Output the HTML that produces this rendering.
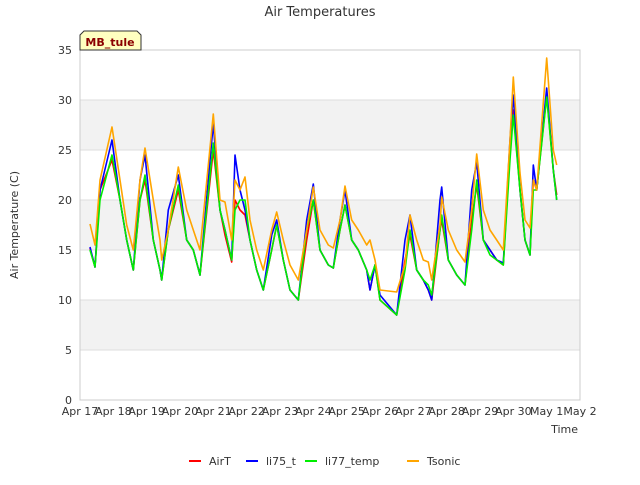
<!DOCTYPE html>
<html><head><meta charset="utf-8"><style>
body{margin:0;background:#fff;font-family:"Liberation Sans","DejaVu Sans",sans-serif}
</style></head><body>
<svg id="chart" width="640" height="480" xmlns="http://www.w3.org/2000/svg" font-family="DejaVu Sans, Liberation Sans, sans-serif">
<rect x="0" y="0" width="640" height="480" fill="#fff"/>
<g id="bands"></g>
<g id="grid"></g>
<rect x="80" y="50" width="500" height="350" fill="none" stroke="#ccc"/>
<g id="series"></g>
<g id="axes" font-size="11" fill="#333"></g>
<text x="320" y="16" text-anchor="middle" font-size="13" fill="#333">Air Temperatures</text>
<text transform="translate(18,225) rotate(-90)" text-anchor="middle" font-size="11" fill="#333">Air Temperature (C)</text>
<text x="578" y="433" text-anchor="end" font-size="11" fill="#333">Time</text>
<g>
<path d="M80,50 L80,35 L84,31 L137,31 L141,35 L141,50 Z" fill="#ffffc0" stroke="#333"/>
<text x="110" y="46" text-anchor="middle" font-size="11" font-weight="bold" fill="#8b0000">MB_tule</text>
</g>
<g id="legend" font-size="11" fill="#333"></g>
</svg>
<script>
const times=[0.3,0.45,0.6,0.96,1.2,1.4,1.6,1.8,1.95,2.2,2.4,2.45,2.65,2.95,3.2,3.4,3.6,4.0,4.2,4.35,4.55,4.65,4.8,4.95,5.1,5.3,5.5,5.75,5.9,6.1,6.3,6.55,6.8,7.0,7.2,7.45,7.6,7.8,7.95,8.15,8.35,8.6,8.7,8.85,9.0,9.5,9.75,9.9,10.1,10.3,10.45,10.55,10.8,10.85,11.05,11.3,11.55,11.75,11.9,12.1,12.3,12.5,12.7,12.9,13.0,13.2,13.35,13.5,13.6,13.7,14.0,14.2,14.3];
const airT=[15.2,13.3,21,24,20,16,13,20,22,16,13,12,17,21,16,15,12.5,25,19,16.5,13.8,20,19,18.5,16,13,11,15,17.5,14,11,10,16,20,15,13.5,13.2,17,19.5,16,15,13,11,13.5,10,8.5,14,16.5,13,12,11,10,17,18,14,12.5,11.5,18,21.5,16,15,14,13.5,25,29,21,16,14.5,22,21,30.5,23,20.5];
const li75=[15.3,13.3,21,26,20,16,13,22,24.5,16,13,12,19,22.5,16,15,12.5,27.7,19,17,14,24.5,21,19,16,13,11,16.5,18,14,11,10,18,21.6,15,13.5,13.2,18,21,16,15,13,11,13.5,10.5,8.5,16,18.5,13,12,11,10,20,21.3,14,12.5,11.5,21,23.8,16,15,14,13.7,26,30.5,21,16,14.5,23.5,21,31.2,23,20];
const li77=[15,13.3,20,24.5,20,16,13,20,22.5,16,13,12,17,21.5,16,15,12.5,25.7,19,17,14,19,20,20,16,13,11,15,17.5,14,11,10,17,20,15,13.5,13.2,17,19.5,16,15,13,12,13.5,10,8.5,13,17,13,12,11.5,10.5,17,18.5,14,12.5,11.5,17,22,16,14.5,14,13.5,24,28.5,21,16,14.5,21,21,30.3,23,20];
const tsonic=[17.6,15.5,22,27.3,22,17.5,15,22,25.2,20,16,14,17,23.3,19,17,15,28.6,20,19.8,16,22,21,22.3,18,15,13,17,18.8,16,13.5,12,17,21.3,17,15.5,15.2,18,21.4,18,17,15.5,16,14,11,10.8,13.5,18.5,16,14,13.8,12,17.5,20.3,17,15,13.8,19,24.6,19,17,16,15,26,32.3,22.7,18,17.2,22,21,34.2,25,23.5];
const seriesNames=["AirT","li75_t","li77_temp","Tsonic"];
const seriesColors=["#ff0000","#0000ff","#00ee00","#ffa500"];
const yTicks=[0,5,10,15,20,25,30,35];
const xTickLabels=["Apr 17","Apr 18","Apr 19","Apr 20","Apr 21","Apr 22","Apr 23","Apr 24","Apr 25","Apr 26","Apr 27","Apr 28","Apr 29","Apr 30","May 1","May 2"];

const NS="http://www.w3.org/2000/svg";
const X=t=>80+t*500/15, Y=v=>400-v*10;
function mk(tag,attrs,parent){const e=document.createElementNS(NS,tag);for(const k in attrs)e.setAttribute(k,attrs[k]);parent.appendChild(e);return e;}
const bands=document.getElementById('bands'),grid=document.getElementById('grid'),axes=document.getElementById('axes');
for(let i=0;i<yTicks.length-1;i++){
  if(i%2===1){const b=mk('rect',{x:80,y:Y(yTicks[i+1]),width:500,height:Y(yTicks[i])-Y(yTicks[i+1]),fill:'#f2f2f2'},bands);
  
  }
}
yTicks.forEach(v=>{
  const l=mk('line',{x1:80,x2:580,y1:Y(v),y2:Y(v),stroke:'#ddd'},grid);
  
  
  const t=mk('text',{x:72,y:Y(v)+4,'text-anchor':'end'},axes);t.textContent=v;
  
  
});
xTickLabels.forEach((s,i)=>{
  const t=mk('text',{x:X(i),y:415,'text-anchor':'middle'},axes);t.textContent=s;
  
  
});
const sg=document.getElementById('series');
[airT,li75,li77,tsonic].forEach((vals,k)=>{
  const d=vals.map((v,i)=>(i?'L':'M')+X(times[i]).toFixed(1)+','+Y(v).toFixed(1)).join(' ');
  const p=mk('path',{d:d,fill:'none',stroke:seriesColors[k],'stroke-width':1.6,'stroke-linejoin':'round'},sg);
  
  
});
const lg=document.getElementById('legend');
const lx=[189,246,305,407];
seriesNames.forEach((n,k)=>{
  const g=mk('g',{},lg);
  
  
  mk('line',{x1:lx[k],x2:lx[k]+12,y1:461,y2:461,stroke:seriesColors[k],'stroke-width':2},g);
  const t=mk('text',{x:lx[k]+20,y:465},g);t.textContent=n;
});
</script>
</body></html>
